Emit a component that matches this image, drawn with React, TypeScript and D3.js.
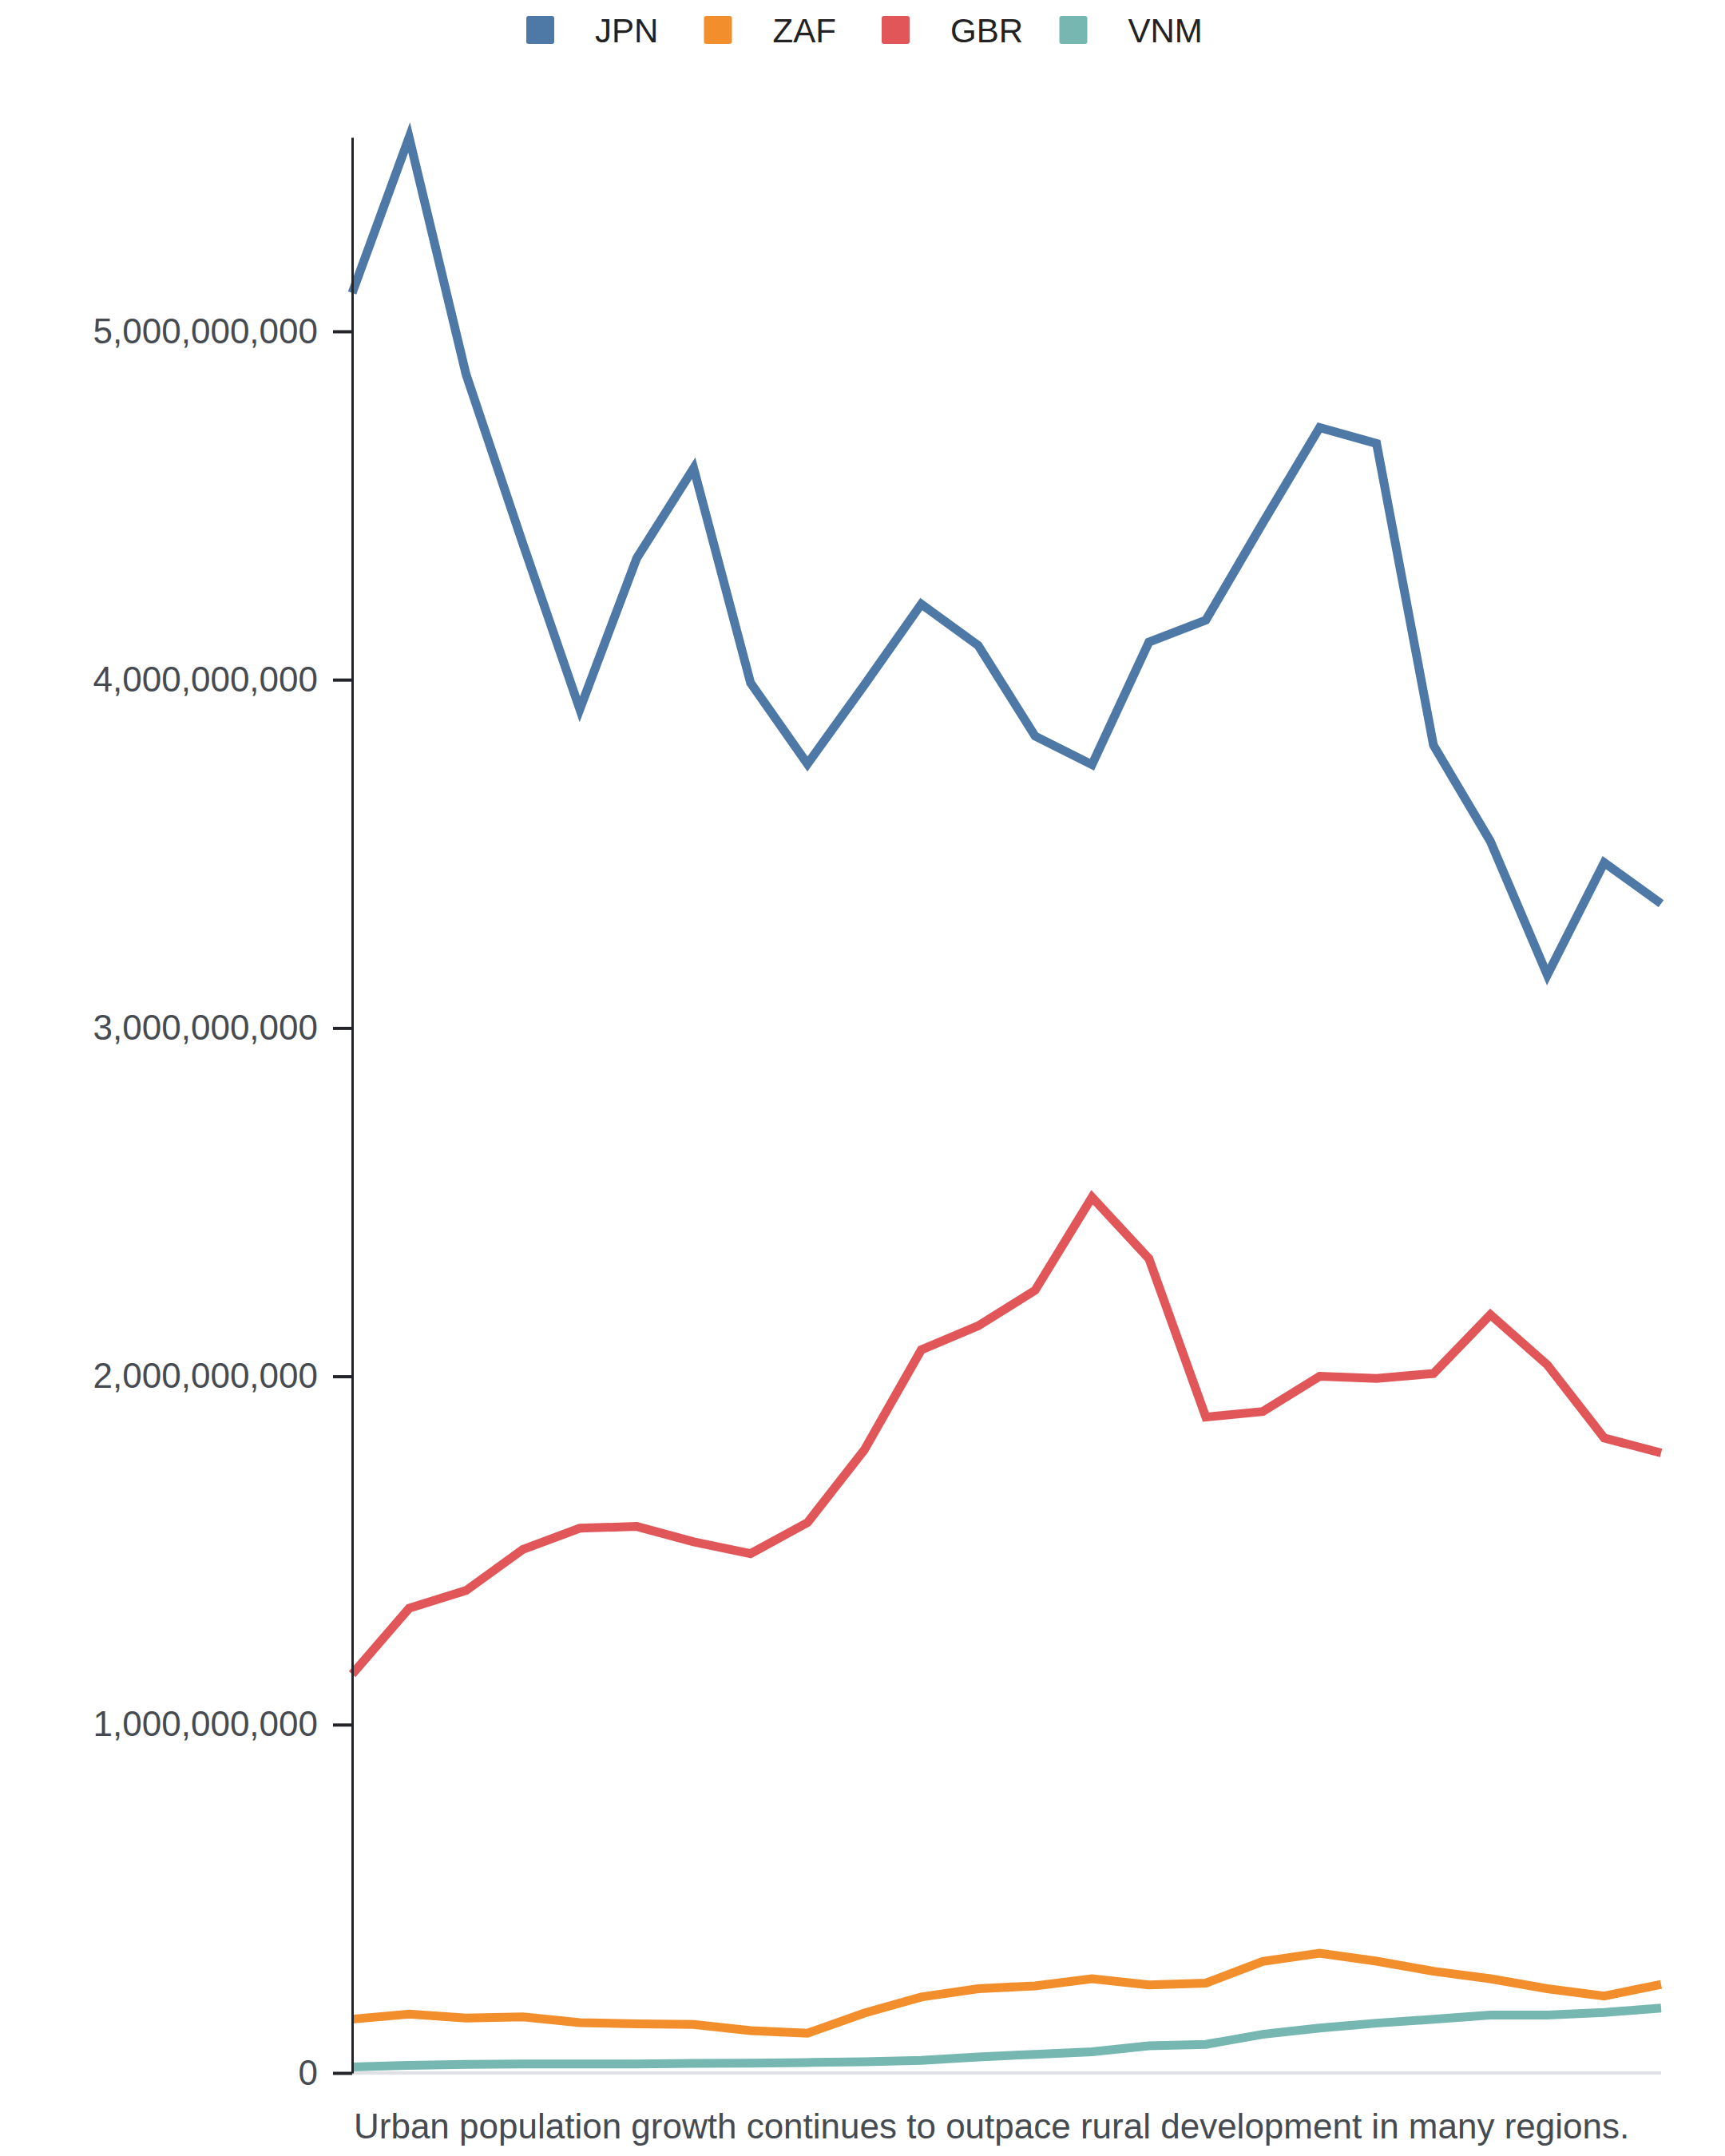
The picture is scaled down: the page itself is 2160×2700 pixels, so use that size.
import { useEffect, useRef } from 'react';
import * as d3 from 'd3';

// 24 yearly observations, no x labels are shown in the chart
const years = d3.range(1990, 2014);

const seriesNames = ['JPN', 'ZAF', 'GBR', 'VNM'];
const seriesColors = ['#4e79a7', '#f28e2b', '#e15759', '#76b7b2'];

const jpnValues = [
  5.11e9, 5.557e9, 4.877e9, 4.39e9, 3.915e9, 4.349e9, 4.607e9, 3.991e9,
  3.758e9, 3.985e9, 4.217e9, 4.098e9, 3.838e9, 3.756e9, 4.108e9, 4.171e9,
  4.45e9, 4.724e9, 4.678e9, 3.812e9, 3.536e9, 3.152e9, 3.475e9, 3.357e9,
];
const zafValues = [
  0.1545e9, 0.169e9, 0.1575e9, 0.161e9, 0.1445e9, 0.141e9, 0.139e9, 0.1215e9,
  0.114e9, 0.172e9, 0.218e9, 0.242e9, 0.25e9, 0.2705e9, 0.253e9, 0.258e9,
  0.32e9, 0.344e9, 0.321e9, 0.292e9, 0.2705e9, 0.242e9, 0.221e9, 0.254e9,
];
const gbrValues = [
  1.145e9, 1.334e9, 1.385e9, 1.503e9, 1.564e9, 1.569e9, 1.525e9, 1.491e9,
  1.58e9, 1.789e9, 2.076e9, 2.145e9, 2.247e9, 2.514e9, 2.338e9, 1.883e9,
  1.899e9, 2.0e9, 1.994e9, 2.008e9, 2.177e9, 2.033e9, 1.823e9, 1.78e9,
];
const vnmValues = [
  0.017e9, 0.022e9, 0.0245e9, 0.026e9, 0.026e9, 0.026e9, 0.0275e9, 0.028e9,
  0.03e9, 0.032e9, 0.036e9, 0.046e9, 0.0535e9, 0.061e9, 0.078e9, 0.082e9,
  0.111e9, 0.129e9, 0.143e9, 0.154e9, 0.166e9, 0.166e9, 0.1735e9, 0.1865e9,
];

const yTicks = [0, 1e9, 2e9, 3e9, 4e9, 5e9];
const caption = 'Urban population growth continues to outpace rural development in many regions.';

const WIDTH = 2160;
const HEIGHT = 2700;
const margin = { top: 172, right: 80, bottom: 104, left: 441 };
const font = '"Liberation Sans", Arial, Helvetica, sans-serif';

export default function App() {
  const axisRef = useRef<SVGGElement | null>(null);

  const seriesValues = [jpnValues, zafValues, gbrValues, vnmValues];

  const x = d3.scalePoint<number>()
    .domain(years)
    .range([margin.left, WIDTH - margin.right]);

  const y = d3.scaleLinear()
    .domain([0, d3.max(seriesValues.flat()) as number])
    .range([HEIGHT - margin.bottom, margin.top]);

  const line = d3.line<number>()
    .x((_, i) => x(years[i]) as number)
    .y(d => y(d));

  useEffect(() => {
    document.body.style.margin = '0';
    if (!axisRef.current) return;
    const g = d3.select(axisRef.current);
    g.selectAll('*').remove();
    g.attr('transform', `translate(${margin.left},0)`)
      .call(
        d3.axisLeft(y)
          .tickValues(yTicks)
          .tickFormat(d3.format(','))
          .tickSize(24)
          .tickSizeOuter(0)
          .tickPadding(19)
      );
    g.select('.domain').attr('stroke', '#222429').attr('stroke-width', 3);
    g.selectAll('.tick line').attr('stroke', '#222429').attr('stroke-width', 4);
    g.selectAll('.tick text')
      .attr('fill', '#464b52')
      .style('font-size', '44px')
      .style('font-family', font);
  }, []);

  const legendStart = 659;
  const legendStep = 222.5;

  return (
    <svg width={WIDTH} height={HEIGHT} style={{ display: 'block', background: '#fff' }}>
      {/* legend */}
      <g>
        {seriesNames.map((name, i) => (
          <g key={name} transform={`translate(${legendStart + i * legendStep},20)`}>
            <rect width={35} height={35} rx={3} fill={seriesColors[i]} />
            <text
              x={86}
              y={32.7}
              fontSize={42}
              fontFamily={font}
              fill="#222"
            >
              {name}
            </text>
          </g>
        ))}
      </g>

      {/* zero baseline */}
      <line
        x1={margin.left}
        x2={WIDTH - margin.right}
        y1={y(0)}
        y2={y(0)}
        stroke="#dfe1e5"
        strokeWidth={4}
      />

      {/* series lines */}
      {seriesValues.map((vals, i) => (
        <path
          key={seriesNames[i]}
          d={line(vals) ?? ''}
          fill="none"
          stroke={seriesColors[i]}
          strokeWidth={11}
        />
      ))}

      <g ref={axisRef} />

      <text
        x={margin.left + 2}
        y={2678}
        fontSize={44}
        fontFamily={font}
        fill="#464b52"
      >
        {caption}
      </text>
    </svg>
  );
}
